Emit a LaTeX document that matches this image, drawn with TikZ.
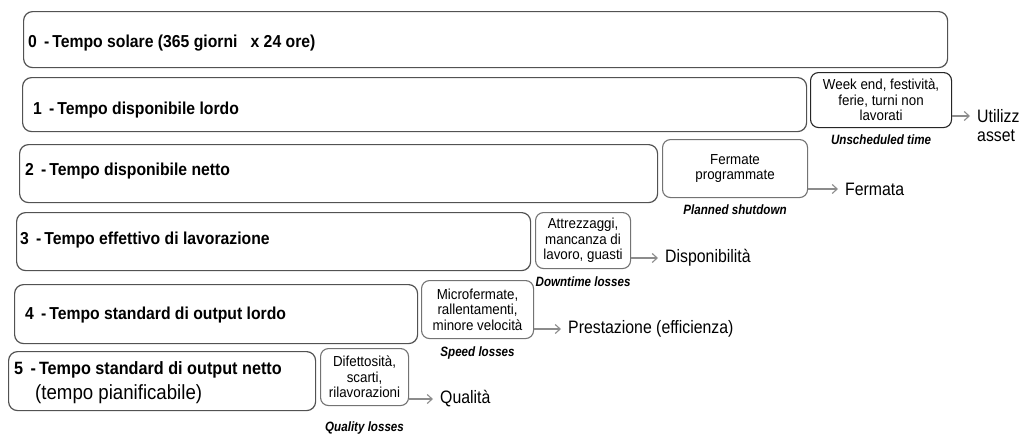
\documentclass[tikz,border=0pt]{standalone}
\usepackage{fontspec}
\setmainfont{Liberation Sans}
\newfontfamily\titlefont[FakeStretch=0.91]{Liberation Sans}
\newfontfamily\boxfont[FakeStretch=0.92]{Liberation Sans}
\newfontfamily\tagfont[FakeStretch=0.86]{Liberation Sans}
\newfontfamily\resfont[FakeStretch=0.88]{Liberation Sans}
\usetikzlibrary{arrows.meta}
\begin{document}
\begin{tikzpicture}[x=1pt,y=-1pt,
  bar/.style={draw=black!68, line width=1.2pt, rounded corners=9pt, anchor=north west, inner sep=0pt},
  lossbox/.style={draw=black!55, line width=1.1pt, rounded corners=8pt, anchor=north west, inner sep=0pt, align=center, font=\boxfont\fontsize{14.5}{15.5}\selectfont},
  title/.style={anchor=west, inner sep=0pt, font=\titlefont\bfseries\fontsize{17.3}{19}\selectfont},
  sub/.style={anchor=west, inner sep=0pt, font=\titlefont\fontsize{20.5}{22}\selectfont},
  tag/.style={inner sep=0pt, anchor=north, font=\tagfont\bfseries\itshape\fontsize{13.5}{15}\selectfont},
  result/.style={anchor=west, inner sep=0pt, font=\resfont\fontsize{18}{20}\selectfont},
  flow/.style={draw=black!45, line width=1.1pt, shorten >=7pt, -{Straight Barb[length=5pt,width=9pt]}}
]
\useasboundingbox[fill=white] (0,0) rectangle (1019,437);

% time levels, from solar time down to net standard output time
\node[bar, minimum width=924pt, minimum height=56pt] (b0) at (23,11) {};
\node[bar, minimum width=784pt, minimum height=54pt] (b1) at (22,77) {};
\node[bar, minimum width=638pt, minimum height=58pt] (b2) at (19,144) {};
\node[bar, minimum width=514pt, minimum height=58pt] (b3) at (16,212) {};
\node[bar, minimum width=403pt, minimum height=59pt] (b4) at (14,284) {};
\node[bar, minimum width=307pt, minimum height=59pt] (b5) at (8,351) {};

\node[title] (t0) at (28,43) {0\,\ -\,Tempo solare (365 giorni\ \ \ x 24 ore)};
\node[title] (t1) at (33,110) {1\,\ -\,Tempo disponibile lordo};
\node[title] (t2) at (25,171) {2\,\ -\,Tempo disponibile netto};
\node[title] (t3) at (20,240) {3\,\ -\,Tempo effettivo di lavorazione};
\node[title] (t4) at (25,315) {4\,\ -\,Tempo standard di output lordo};
\node[title, font=\titlefont\bfseries\fontsize{17.8}{19}\selectfont] (t5) at (14,370) {5\,\ -\,Tempo standard di output netto};
\node[sub] (t5b) at (35,394) {(tempo pianificabile)};

% losses separating one level from the next
\node[lossbox, draw=black!85, minimum width=141pt, minimum height=55pt] (s1) at (810,72) {Week end, festività,\\ferie, turni non\\lavorati};
\node[lossbox, minimum width=145pt, minimum height=58pt] (s2) at (662,139) {Fermate\\programmate};
\node[lossbox, minimum width=95pt, minimum height=56pt] (s3) at (535,212) {Attrezzaggi,\\mancanza di\\lavoro, guasti};
\node[lossbox, minimum width=112pt, minimum height=58pt] (s4) at (421,280) {Microfermate,\\rallentamenti,\\minore velocità};
\node[lossbox, minimum width=88pt, minimum height=57pt] (s5) at (320,348) {Difettosità,\\scarti,\\rilavorazioni};

\node[tag] (g1) at ([yshift=-6pt]s1.south) {Unscheduled time};
\node[tag] (g2) at ([yshift=-6pt]s2.south) {Planned shutdown};
\node[tag] (g3) at ([yshift=-7pt]s3.south) {Downtime losses};
\node[tag] (g4) at ([yshift=-7pt]s4.south) {Speed losses};
\node[tag] (g5) at ([yshift=-15pt]s5.south) {Quality losses};

% resulting indicators
\node[result] (r1) at (977,116) {Utilizzo};
\node[result] (r1b) at (977,136) {asset};
\node[result] (r2) at (845,189) {Fermata};
\node[result] (r3) at (665,258) {Disponibilità};
\node[result] (r4) at (568,329) {Prestazione (efficienza)};
\node[result] (r5) at (440,399) {Qualità};

\draw[flow] (s1.east |- r1.west) -- (r1.west);
\draw[flow] (s2.east |- r2.west) -- (r2.west);
\draw[flow] (s3.east |- r3.west) -- (r3.west);
\draw[flow] (s4.east |- r4.west) -- (r4.west);
\draw[flow] (s5.east |- r5.west) -- (r5.west);
\end{tikzpicture}
\end{document}
